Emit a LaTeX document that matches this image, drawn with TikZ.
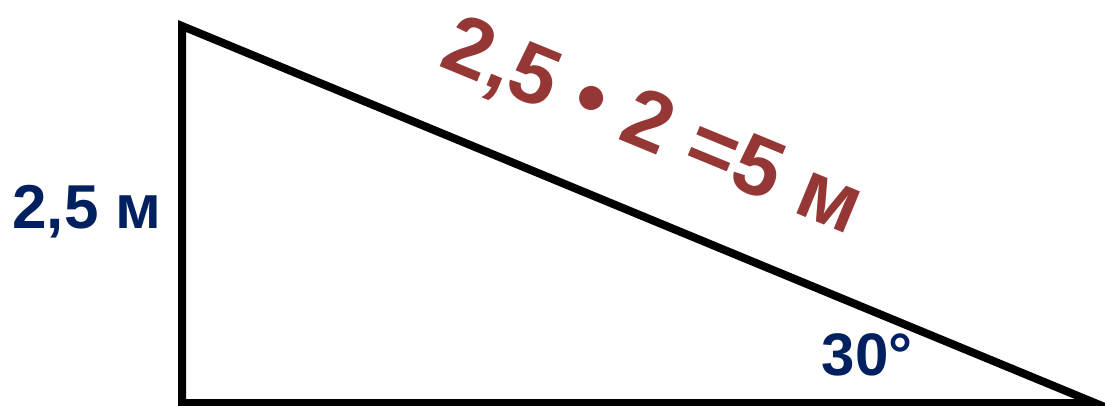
\documentclass[tikz,border=0pt]{standalone}
\usepackage{fontspec}
\setmainfont{Liberation Sans}
\definecolor{navy}{HTML}{002060}
\definecolor{darkred}{HTML}{953735}
\begin{document}
\begin{tikzpicture}[x=1pt,y=-1pt,
  side/.style={line width=8pt,line join=miter,draw=black},
  lbl/.style={font=\bfseries\fontsize{60}{60}\selectfont,inner sep=0pt},
]
\useasboundingbox (0,0) rectangle (1105,406);
\coordinate (A) at (182,26);
\coordinate (B) at (182,403);
\coordinate (C) at (1095,403);
\draw[side] (A) -- (B) -- (C) -- cycle;
\node[lbl,text=navy,font=\bfseries\fontsize{62}{62}\selectfont] (h) at (87,212) {2,5 м};
\node[lbl,text=navy] (ang) at (867,355) {30°};
\node[lbl,text=darkred,rotate=-22.4,font=\bfseries\fontsize{84}{84}\selectfont] (hyp) at (652,129) {2,5 • 2 =5 м};
\end{tikzpicture}
\end{document}
